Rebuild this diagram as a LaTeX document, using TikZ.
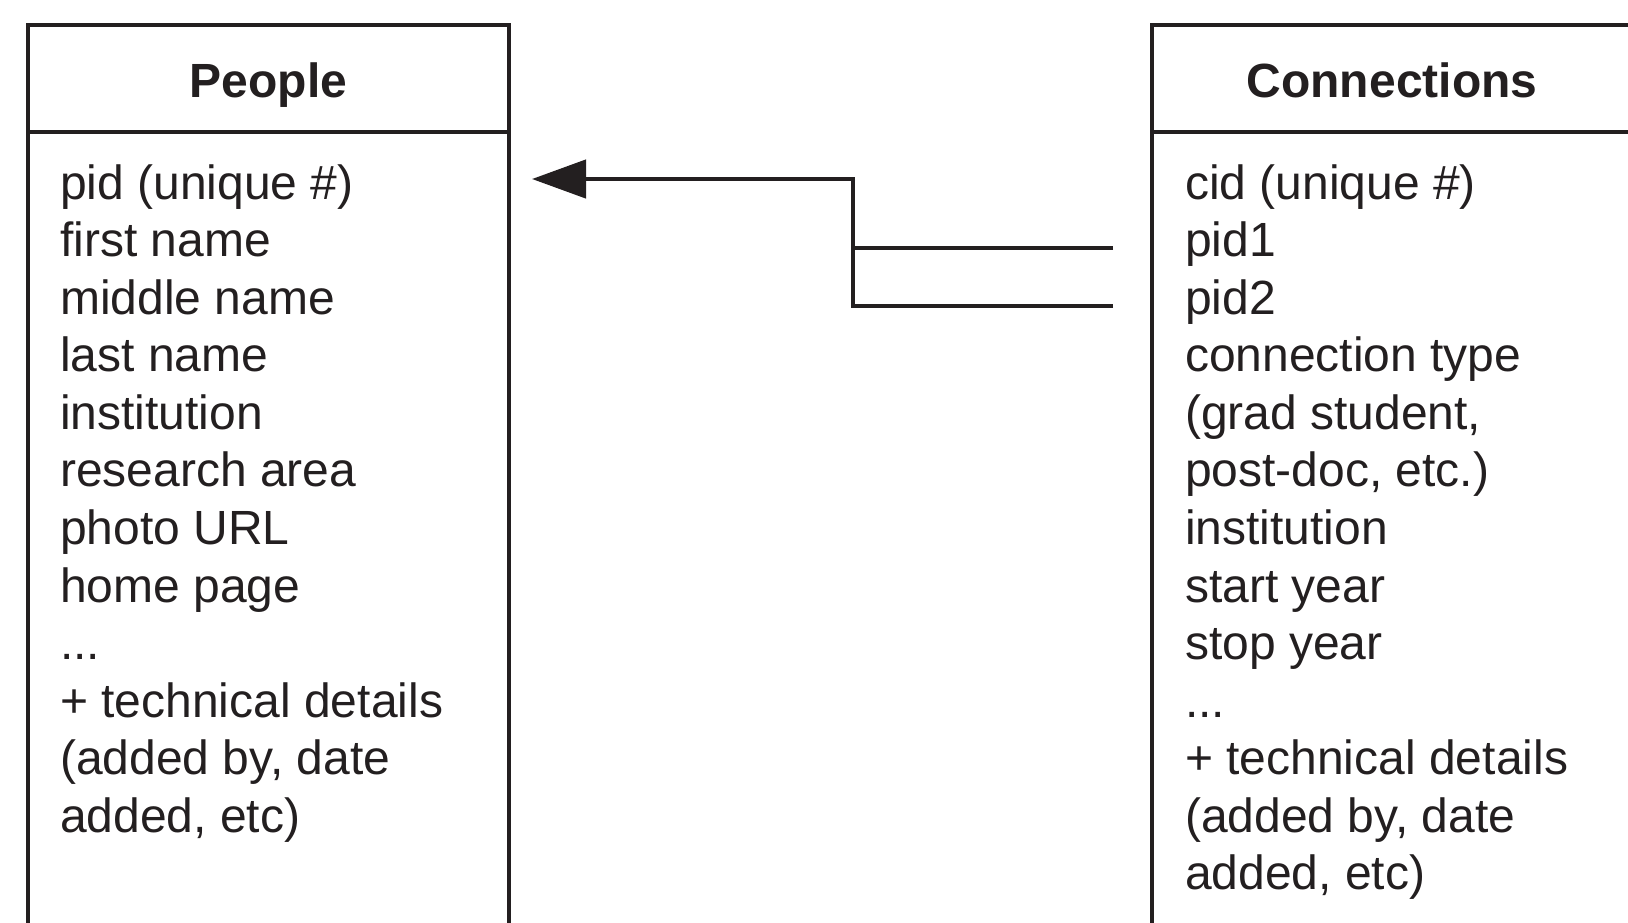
\documentclass[tikz,border=0pt]{standalone}
\usepackage{fontspec}
\setmainfont{Liberation Sans}
\usetikzlibrary{arrows.meta}
\definecolor{ink}{HTML}{231F20}
\newcommand\tdots{...}
\tikzset{
  boxline/.style={draw=ink, line width=4.5pt},
  title/.style={font=\fontsize{48}{57.6}\selectfont\bfseries, text=ink, inner sep=0pt, anchor=base},
  field/.style={font=\fontsize{48}{57.6}\selectfont, text=ink, inner sep=0pt, anchor=base west},
  link/.style={draw=ink, line width=4.5pt},
  fk/.style={link, -{Triangle[length=54pt,width=38pt]}}
}
\begin{document}
\begin{tikzpicture}[x=1pt,y=-1pt]
\useasboundingbox (0,0) rectangle (1628,922);
% People table
\draw[boxline] (28,935) -- (28,25) -- (509,25) -- (509,935);
\draw[boxline] (28,132) -- (509,132);
\node[title] (ptitle) at (268.5,97) {People};
\foreach \txt [count=\i from 0] in {pid (unique \#),first name,middle name,last name,institution,research area,photo URL,home page,\tdots,+ technical details,{(added by, date},{added, etc)}}
  \node[field] (p\i) at (60,199+57.57*\i) {\txt};
% Connections table
\draw[boxline] (1645,25) -- (1152,25) -- (1152,935);
\draw[boxline] (1152,132) -- (1645,132);
\node[title] (ctitle) at (1392,97) {Connections};
\foreach \txt [count=\i from 0] in {cid (unique \#),pid1,pid2,connection type,{(grad student,},{post-doc, etc.)},institution,start year,stop year,\tdots,+ technical details,{(added by, date},{added, etc)}}
  \node[field] (c\i) at (1185,199+57.57*\i) {\txt};
% foreign key connectors
\coordinate (f1) at (1113,248);
\coordinate (f2) at (1113,306);
\coordinate (j) at (853,179);
\coordinate (tip) at (532,179);
\draw[link] (f1) -- (j |- f1);
\draw[link] (f2) -- (j |- f2) -- (j) -- ([xshift=-1pt]j);
\draw[fk] ([xshift=2pt]j) -- (tip);
\end{tikzpicture}
\end{document}
